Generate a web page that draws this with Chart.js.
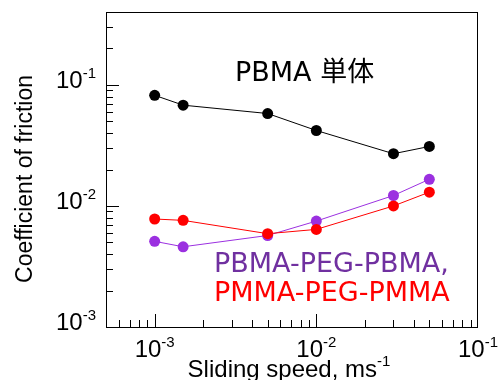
<!DOCTYPE html>
<html>
<head>
<meta charset="utf-8">
<script src="https://cdn.jsdelivr.net/npm/chart.js@4.4.0/dist/chart.umd.min.js"></script>
<style>
  html, body { margin: 0; padding: 0; background: #fff; }
  #wrap { width: 499px; height: 380px; }
</style>
</head>
<body>
<div id="wrap"><canvas id="myChart" width="499" height="380"></canvas></div>
<script>
// sliding speed, m/s
const speeds = [0.001, 0.0015, 0.005, 0.01, 0.03, 0.05];
// coefficient of friction
const pbmaOnly = [0.082, 0.068, 0.058, 0.042, 0.027, 0.031];
const pbmaPegPbma = [0.0051, 0.0046, 0.0057, 0.0075, 0.0122, 0.0166];
const pmmaPegPmma = [0.0078, 0.0076, 0.0059, 0.0064, 0.0100, 0.0130];

const xTickExps = [-3, -2, -1];
const yTickExps = [-3, -2, -1];

const labelFont = '"Liberation Sans", Arial, sans-serif';
const noteFont = '"DejaVu Sans", "Noto Sans CJK JP", sans-serif';

function toPoints(values) {
    return speeds.map((s, i) => ({ x: s, y: values[i] }));
}

// draw "10" with a raised exponent
function drawPower(c, exp, x, y, align) {
    const base = '10';
    const sup = '-' + Math.abs(exp);
    c.font = '24px ' + labelFont;
    const wb = c.measureText(base).width;
    c.font = '15px ' + labelFont;
    const ws = c.measureText(sup).width;
    let left = x;
    if (align === 'right') left = x - wb - ws;
    if (align === 'center') left = x - (wb + ws) / 2;
    c.fillStyle = '#000';
    c.textAlign = 'left';
    c.textBaseline = 'alphabetic';
    c.font = '24px ' + labelFont;
    c.fillText(base, left, y);
    c.font = '15px ' + labelFont;
    c.fillText(sup, left + wb, y - 10);
}

const framePlugin = {
    id: 'frame',
    afterDraw(chart) {
        const c = chart.ctx;
        const a = chart.chartArea;
        const xs = chart.scales.x;
        const ys = chart.scales.y;
        c.save();

        // box
        c.strokeStyle = '#000';
        c.lineWidth = 1;
        c.strokeRect(a.left + 0.5, a.top + 0.5, a.right - a.left - 1, a.bottom - a.top);

        // inward ticks
        c.beginPath();
        for (let d = -4; d <= -1; d++) {
            for (let m = 1; m <= 9; m++) {
                const v = m * Math.pow(10, d);
                if (v > xs.min * 1.0001 && v < xs.max * 0.9999) {
                    const px = Math.round(xs.getPixelForValue(v)) + 0.5;
                    const len = m === 1 ? 13 : 7;
                    c.moveTo(px, a.bottom);
                    c.lineTo(px, a.bottom - len);
                }
                if (v > ys.min * 1.0001 && v < ys.max * 0.9999) {
                    const py = Math.round(ys.getPixelForValue(v)) + 0.5;
                    const len = m === 1 ? 13 : 7;
                    c.moveTo(a.left, py);
                    c.lineTo(a.left + len, py);
                }
            }
        }
        c.stroke();

        // tick labels
        xTickExps.forEach(e => {
            drawPower(c, e, xs.getPixelForValue(Math.pow(10, e)), 357, 'center');
        });
        yTickExps.forEach(e => {
            drawPower(c, e, 96, ys.getPixelForValue(Math.pow(10, e)) + 3, 'right');
        });

        // axis titles
        c.fillStyle = '#000';
        c.font = '24px ' + labelFont;
        c.textAlign = 'left';
        const t1 = 'Sliding speed, ms';
        const w1 = c.measureText(t1).width;
        c.font = '15px ' + labelFont;
        const w2 = c.measureText('-1').width;
        const tx = 289 - (w1 + w2) / 2;
        c.font = '24px ' + labelFont;
        c.fillText(t1, tx, 377);
        c.font = '15px ' + labelFont;
        c.fillText('-1', tx + w1, 366);

        c.save();
        c.translate(32, 179);
        c.rotate(-Math.PI / 2);
        c.font = '23px ' + labelFont;
        c.textAlign = 'center';
        c.fillText('Coefficient of friction', 0, 0);
        c.restore();

        // series notes
        c.font = '27px ' + noteFont;
        c.textAlign = 'left';
        c.fillStyle = '#000';
        c.fillText('PBMA 単体', 235, 81);
        c.fillStyle = '#7030A0';
        c.fillText('PBMA-PEG-PBMA,', 214, 272);
        c.fillStyle = '#FF0000';
        c.fillText('PMMA-PEG-PMMA', 214, 301);

        c.restore();
    }
};

const ctx = document.getElementById('myChart').getContext('2d');
const myChart = new Chart(ctx, {
    type: 'line',
    data: {
        datasets: [{
            label: 'PBMA',
            data: toPoints(pbmaOnly),
            borderColor: '#000',
            backgroundColor: '#000',
            borderWidth: 1,
            pointRadius: 5.5,
            pointBorderWidth: 0
        }, {
            label: 'PMMA-PEG-PMMA',
            data: toPoints(pmmaPegPmma),
            borderColor: '#FF0000',
            backgroundColor: '#FF0000',
            borderWidth: 1,
            pointRadius: 5.5,
            pointBorderWidth: 0
        }, {
            label: 'PBMA-PEG-PBMA',
            data: toPoints(pbmaPegPbma),
            borderColor: '#9B30E0',
            backgroundColor: '#9B30E0',
            borderWidth: 1,
            pointRadius: 5.5,
            pointBorderWidth: 0
        }]
    },
    options: {
        responsive: false,
        animation: false,
        layout: { padding: { top: 12, right: 21, left: 0, bottom: 0 } },
        plugins: {
            legend: { display: false },
            tooltip: { enabled: false }
        },
        scales: {
            x: {
                type: 'logarithmic',
                min: 0.0005,
                max: 0.1,
                ticks: { display: false },
                grid: { display: false },
                border: { display: false },
                afterFit: s => { s.height = 53; }
            },
            y: {
                type: 'logarithmic',
                min: 0.001,
                max: 0.4,
                ticks: { display: false },
                grid: { display: false },
                border: { display: false },
                afterFit: s => { s.width = 106; }
            }
        }
    },
    plugins: [framePlugin]
});
</script>
</body>
</html>
